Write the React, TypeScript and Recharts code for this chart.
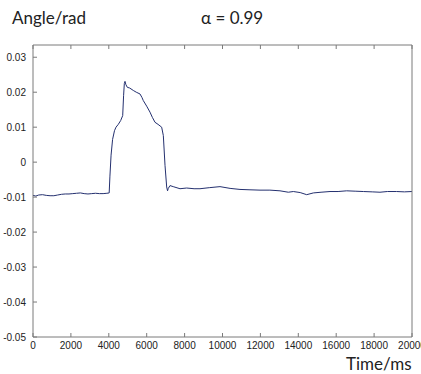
import { Line, LineChart, XAxis, YAxis } from 'recharts';

// samples
const timeMs = [
  0, 150, 300, 500, 700, 900, 1100, 1300, 1500, 1700, 1900, 2100, 2300, 2500,
  2700, 2900, 3100, 3300, 3500, 3700, 3900, 4020, 4060, 4120, 4200, 4300, 4380,
  4500, 4627, 4733, 4780, 4820, 4855, 4900, 4977, 5100, 5294, 5450, 5646, 5750,
  5821, 6000, 6174, 6300, 6438, 6600, 6790, 6878, 6966, 7054, 7100, 7140, 7229,
  7400, 7757, 8108, 8500, 8812, 9300, 9868, 10400, 10923, 11400, 11979, 12500,
  13034, 13474, 13737, 14100, 14443, 14794, 15200, 15673, 16100, 16553, 17000,
  17432, 17900, 18311, 18700, 19191, 19600, 20000,
];

const angleRad = [
  -0.0095, -0.0097, -0.0094, -0.0093, -0.0095, -0.0096, -0.0096, -0.0094,
  -0.0092, -0.0091, -0.0091, -0.009, -0.0089, -0.0088, -0.009, -0.0091, -0.009,
  -0.0089, -0.009, -0.009, -0.0089, -0.0088, -0.004, 0.002, 0.0065, 0.009, 0.01,
  0.0108, 0.0119, 0.0133, 0.019, 0.0225, 0.0231, 0.0222, 0.0214, 0.0212, 0.0205,
  0.02, 0.0195, 0.0185, 0.0176, 0.016, 0.0143, 0.0128, 0.0114, 0.0108, 0.01,
  0.0076, -0.0009, -0.0071, -0.0082, -0.0075, -0.0067, -0.007, -0.0076, -0.0074,
  -0.0076, -0.0076, -0.0073, -0.007, -0.0075, -0.0078, -0.0079, -0.008, -0.008,
  -0.0082, -0.0086, -0.0084, -0.0087, -0.0093, -0.0088, -0.0086, -0.0084,
  -0.0084, -0.0082, -0.0083, -0.0084, -0.0085, -0.0086, -0.0084, -0.0084,
  -0.0085, -0.0084,
];

const xTicks = [0, 2000, 4000, 6000, 8000, 10000, 12000, 14000, 16000, 18000, 20000];
const yTicks = [0.03, 0.02, 0.01, 0, -0.01, -0.02, -0.03, -0.04, -0.05];

const data = timeMs.map((t, i) => ({ t, angle: angleRad[i] }));

const tickFont = {
  fontSize: 10,
  fontFamily: "'Liberation Sans Narrow', 'Liberation Sans', Arial, sans-serif",
  fill: '#222',
};
const axisColor = '#7a7a7a';
const yDomain = [-0.05, 0.0335];

const NoLabel = () => <g />;

const labelStyle = {
  position: 'absolute' as const,
  fontFamily: 'Lato, sans-serif',
  fontSize: 17,
  color: '#222',
  lineHeight: 1,
  whiteSpace: 'nowrap' as const,
};

const App = () => {
  return (
    <div
      style={{
        position: 'absolute',
        left: 0,
        top: 0,
        width: 421,
        height: 374,
        background: '#fff',
        overflow: 'hidden',
      }}
    >
      <LineChart
        width={421}
        height={374}
        data={data}
        margin={{ top: 0, right: 0, bottom: 0, left: 0 }}
      >
        {/* bottom + left axes with labels, ticks pointing in */}
        <XAxis
          dataKey='t'
          type='number'
          domain={[0, 20000]}
          ticks={xTicks}
          interval={0}
          height={37}
          stroke={axisColor}
          tick={tickFont}
          tickSize={-4}
          tickMargin={9}
        />
        <YAxis
          type='number'
          domain={yDomain}
          ticks={yTicks}
          interval={0}
          width={33}
          stroke={axisColor}
          tick={tickFont}
          tickSize={-4}
          tickMargin={11}
          tickFormatter={(v: number) => (v === 0 ? '0' : v.toFixed(2))}
        />
        {/* box: top + right axes, tick marks only */}
        <XAxis
          xAxisId='top'
          orientation='top'
          dataKey='t'
          type='number'
          domain={[0, 20000]}
          ticks={xTicks}
          interval={0}
          height={45}
          stroke={axisColor}
          tick={NoLabel}
          tickSize={-4}
        />
        <YAxis
          yAxisId='right'
          orientation='right'
          type='number'
          domain={yDomain}
          ticks={yTicks}
          interval={0}
          width={9}
          stroke={axisColor}
          tick={NoLabel}
          tickSize={-4}
        />

        <Line
          dataKey='angle'
          type='linear'
          stroke='#24306f'
          strokeWidth={1}
          dot={false}
          isAnimationActive={false}
        />
      </LineChart>

      <div style={{ ...labelStyle, left: 12, top: 9 }}>Angle/rad</div>
      <div style={{ ...labelStyle, left: 201, top: 9 }}>α = 0.99</div>
      <div style={{ ...labelStyle, left: 346, top: 355 }}>Time/ms</div>
    </div>
  );
};

export default App;
